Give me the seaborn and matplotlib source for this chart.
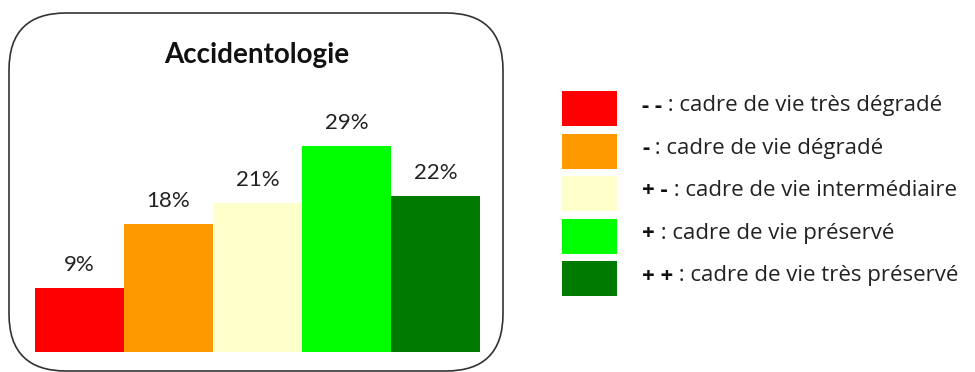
import matplotlib.pyplot as plt
import seaborn as sns
from matplotlib.patches import FancyBboxPatch, Rectangle

title = "Accidentologie"
categories = ["- -", "-", "+ -", "+", "+ +"]
values = [9, 18, 21, 29, 22]
descriptions = [
    "cadre de vie très dégradé",
    "cadre de vie dégradé",
    "cadre de vie intermédiaire",
    "cadre de vie préservé",
    "cadre de vie très préservé",
]
colors = ["#FF0000", "#FF9900", "#FFFFCC", "#00FF00", "#007A00"]

sns.set_style("white")
plt.rcParams["font.family"] = ["Lato", "DejaVu Sans"]

W, H = 975, 372
fig = plt.figure(figsize=(W / 100, H / 100), dpi=100)


def px(x0, y0, x1, y1):
    # pixel box (origin top-left) -> figure fraction rect
    return [x0 / W, 1 - y1 / H, (x1 - x0) / W, (y1 - y0) / H]


# rounded frame around the chart
frame = FancyBboxPatch((0.09, 0.01), 4.94, 3.58,
                       boxstyle="round,pad=0,rounding_size=0.57",
                       transform=fig.dpi_scale_trans, facecolor="none",
                       edgecolor="#333333", linewidth=1.2, zorder=-1)
fig.add_artist(frame)

ax = fig.add_axes(px(35, 68, 480, 352))
sns.barplot(x=categories, y=values, hue=categories, palette=colors,
            width=1, saturation=1, legend=False, linewidth=0, ax=ax)
ax.set_xlim(-0.5, 4.5)
ax.set_ylim(0, 40)
ax.axis("off")
for c in ax.containers:
    ax.bar_label(c, fmt="{:g}%", padding=9.5, fontsize=16, color="#222222")

fig.text(257 / W, 1 - 63 / H, title, ha="center", va="baseline",
         fontsize=20, fontweight="bold", color="#111111")

# legend
leg_font = ["Open Sans", "DejaVu Sans"]
lg = fig.add_axes(px(540, 70, 975, 310))
lg.set_xlim(0, 435)
lg.set_ylim(240, 0)
lg.axis("off")
for i, (cat, desc, col) in enumerate(zip(categories, descriptions, colors)):
    top = 21 + i * 42.5
    lg.add_patch(Rectangle((22, top), 55, 35, facecolor=col, edgecolor="none"))
    sym = lg.text(102, top + 15, cat, fontsize=16, fontweight="bold",
                  family=leg_font, va="center", color="#111111")
    lg.annotate(" : " + desc, xy=(1, 0.5), xycoords=sym, va="center",
                fontsize=16, family=leg_font, color="#222222")

fig.savefig("out.png", dpi=100)
